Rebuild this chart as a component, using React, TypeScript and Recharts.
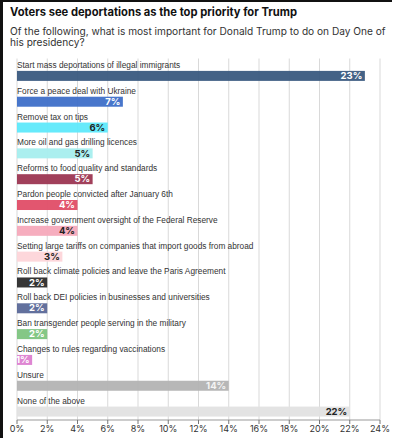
import { BarChart, Bar, XAxis, YAxis, CartesianGrid } from 'recharts';

const categories = [
    'Start mass deportations of illegal immigrants',
    'Force a peace deal with Ukraine',
    'Remove tax on tips',
    'More oil and gas drilling licences',
    'Reforms to food quality and standards',
    'Pardon people convicted after January 6th',
    'Increase government oversight of the Federal Reserve',
    'Setting large tariffs on companies that import goods from abroad',
    'Roll back climate policies and leave the Paris Agreement',
    'Roll back DEI policies in businesses and universities',
    'Ban transgender people serving in the military',
    'Changes to rules regarding vaccinations',
    'Unsure',
    'None of the above',
];

const shares = [23, 7, 6, 5, 5, 4, 4, 3, 2, 2, 2, 1, 14, 22];

const barColors = [
    '#3a5a80', '#3e6fc8', '#5ee9fb', '#a6eeee', '#9c3652', '#e04d67', '#f5a9bb',
    '#fdd5d9', '#2b2b2b', '#5a6898', '#7dc47f', '#dc7fd0', '#b3b3b3', '#e1e1e1',
];

const valueColors = [
    '#fff', '#fff', '#222', '#222', '#fff', '#fff', '#222',
    '#222', '#fff', '#fff', '#fff', '#fff', '#f4f4f4', '#222',
];

const xTicks = [0, 2, 4, 6, 8, 10, 12, 14, 16, 18, 20, 22, 24];

const rows = categories.map((name, i) => ({
    name,
    value: shares[i],
    color: barColors[i],
    textColor: valueColors[i],
}));

const FONT = 'Inter, "Noto Sans", sans-serif';
const LABEL_FONT = '"Liberation Sans", Arial, sans-serif';

// each band holds the question text on top and the bar at the bottom
function RowShape(props: any) {
    const { x, y, width, height, payload } = props;
    const barH = 10;
    const top = y + height - 13.6;
    return (
        <g>
            <text x={x} y={top - 3} fontSize={8.3} fill="#333" fontFamily={LABEL_FONT}>
                {payload.name}
            </text>
            <rect x={x} y={top} width={width} height={barH} fill={payload.color} fillOpacity={0.95} />
            <text
                x={x + width - 2.5}
                y={top + barH - 1.8}
                textAnchor="end"
                fontSize={9.5}
                fontWeight={700}
                fill={payload.textColor}
                fontFamily={FONT}
            >
                {`${payload.value}%`}
            </text>
        </g>
    );
}

export default function App() {
    return (
        <div style={{ position: 'absolute', left: 0, top: 0, width: 410, height: 438, background: '#fff', overflow: 'hidden' }}>
            <div style={{ position: 'absolute', left: 0, top: 0, width: 3, height: 438, background: '#111' }} />
            <div style={{ position: 'absolute', left: 0, top: 0, width: 392, height: 2, background: '#111' }} />
            <svg width={410} height={60} style={{ position: 'absolute', left: 0, top: 0 }}>
                <text x={10} y={15.7} fontSize={11.2} fontWeight={700} fill="#111" fontFamily={FONT}>
                    Voters see deportations as the top priority for Trump
                </text>
                <text x={10} y={35} fontSize={10.15} fill="#333" fontFamily={FONT}>
                    Of the following, what is most important for Donald Trump to do on Day One of
                </text>
                <text x={10} y={45.7} fontSize={10.15} fill="#333" fontFamily={FONT}>
                    his presidency?
                </text>
            </svg>
            <div style={{ position: 'absolute', left: 0, top: 0 }}>
                <BarChart
                    width={410}
                    height={438}
                    data={rows}
                    layout="vertical"
                    barCategoryGap={0}
                    margin={{ top: 58.5, right: 30, left: 17, bottom: 0 }}
                >
                    <XAxis
                        type="number"
                        domain={[0, 24]}
                        ticks={xTicks}
                        tickFormatter={(v) => `${v}%`}
                        height={18}
                        axisLine={{ stroke: '#999' }}
                        tickLine={{ stroke: '#777' }}
                        tickSize={4}
                        tick={{ fontSize: 9, fill: '#333', fontFamily: FONT }}
                        interval={0}
                    />
                    <YAxis type="category" dataKey="name" hide />
                    <Bar dataKey="value" shape={RowShape} isAnimationActive={false} />
                    <CartesianGrid horizontal={false} stroke="#d9d9d9" />
                </BarChart>
            </div>
        </div>
    );
}
